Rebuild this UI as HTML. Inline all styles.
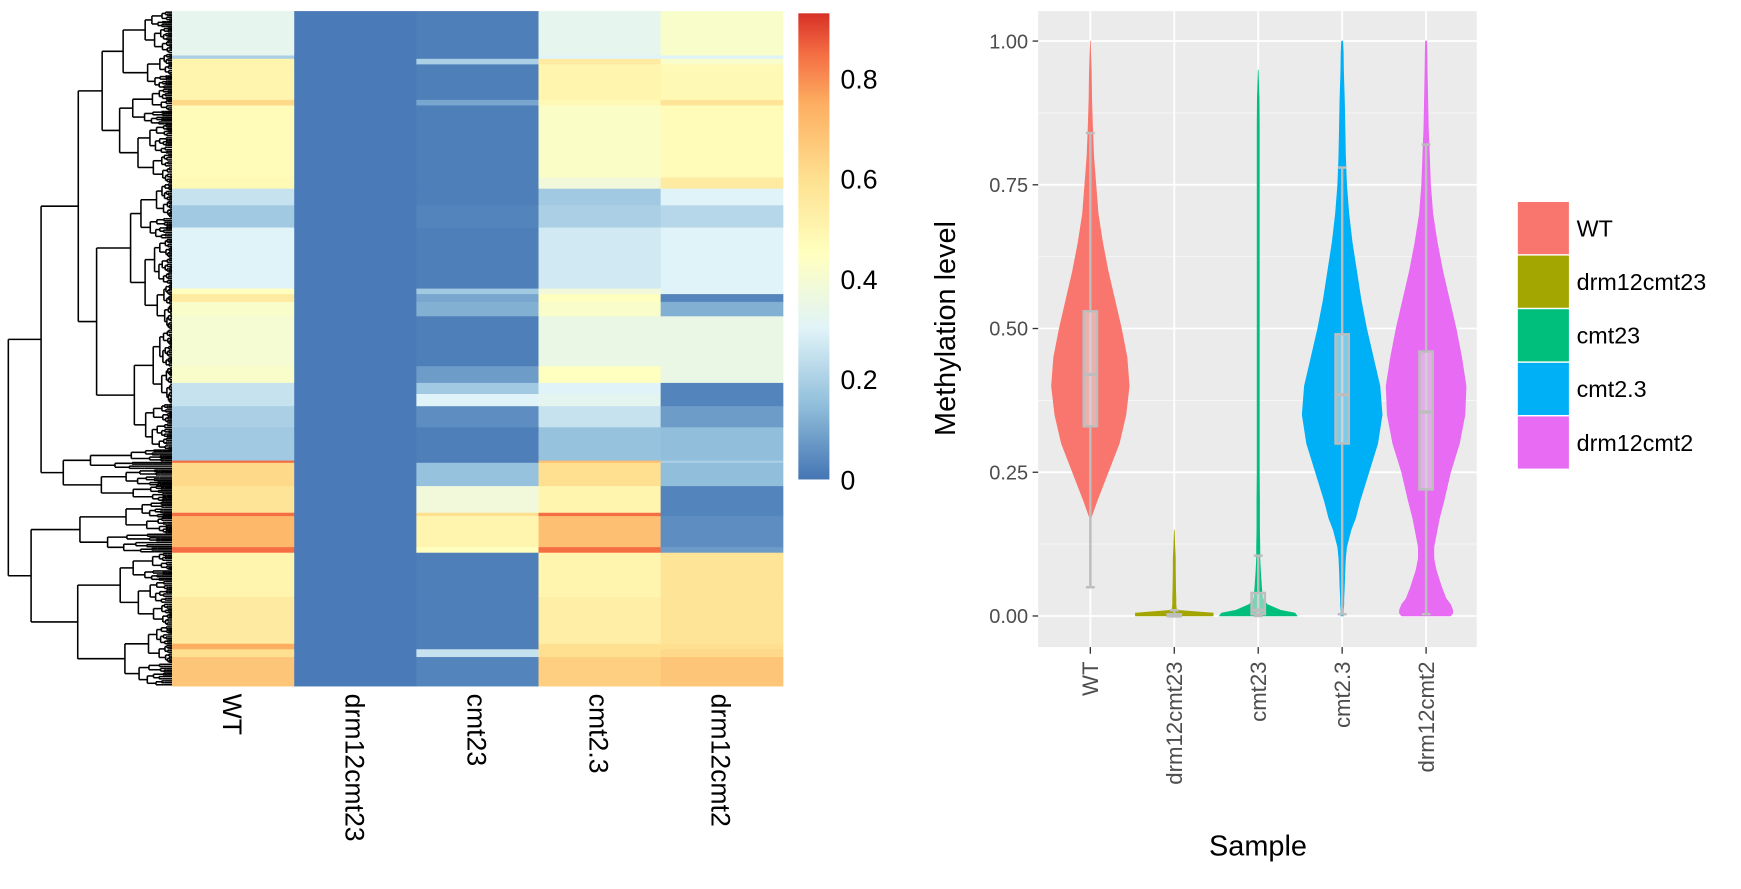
<!DOCTYPE html>
<html><head><meta charset="utf-8">
<style>
html,body{margin:0;padding:0;background:#fff;}
svg{display:block;}
text{font-family:"Liberation Sans",sans-serif;}
</style></head>
<body>
<svg id="fig" width="1741" height="889" viewBox="0 0 1568 801" preserveAspectRatio="none" xmlns="http://www.w3.org/2000/svg">
  <g id="dendro"></g>
  <g id="heat"></g>
  <defs>
    <linearGradient id="cbar" x1="0" y1="1" x2="0" y2="0">
      <stop offset="0" stop-color="#4575b4"/>
      <stop offset="0.161" stop-color="#91bfdb"/>
      <stop offset="0.323" stop-color="#e0f3f8"/>
      <stop offset="0.484" stop-color="#ffffbf"/>
      <stop offset="0.645" stop-color="#fee090"/>
      <stop offset="0.806" stop-color="#fdae61"/>
      <stop offset="0.914" stop-color="#f46d43"/>
      <stop offset="1" stop-color="#d73027"/>
    </linearGradient>
  </defs>
  <rect x="719" y="12" width="28" height="420" fill="url(#cbar)"/>
  <g id="cbarLabels" font-size="24" fill="#000"></g>
  <g id="heatLabels" font-size="24" fill="#000"></g>
  <rect x="935" y="10" width="395" height="573" fill="#ebebeb"/>
  <g id="grid"></g>
  <g id="violins"></g>
  <g id="yaxis"></g>
  <g id="xaxis"></g>
  <text x="0" y="0" font-size="26" text-anchor="middle" transform="translate(860,296) rotate(-90)">Methylation level</text>
  <text x="1133" y="771" font-size="26" text-anchor="middle">Sample</text>
  <g id="legend"></g>
</svg>
<script>
// ---------- Heatmap data ----------
const heatColumns = ["WT","drm12cmt23","cmt23","cmt2.3","drm12cmt2"];
const segEnd = [40,43,48,80,85,150,160,175,195,250,255,262,275,320,335,345,356,375,405,407,428,452,455,483,488,528,570,575,582,608];
const valWT   = [0.33,0.2,0.5,0.5,0.62,0.47,0.48,0.25,0.18,0.3,0.45,0.55,0.42,0.4,0.42,0.25,0.25,0.2,0.18,0.85,0.62,0.58,0.85,0.72,0.85,0.5,0.55,0.75,0.6,0.68];
const valDrm  = [0.01,0.01,0.01,0.01,0.01,0.01,0.01,0.01,0.01,0.01,0.01,0.01,0.01,0.01,0.01,0.01,0.01,0.01,0.01,0.01,0.01,0.01,0.01,0.01,0.01,0.01,0.01,0.01,0.01,0.01];
const valCmt23= [0.02,0.02,0.2,0.02,0.1,0.02,0.02,0.02,0.03,0.02,0.18,0.1,0.12,0.02,0.08,0.18,0.3,0.05,0.02,0.02,0.16,0.38,0.6,0.5,0.45,0.02,0.02,0.02,0.25,0.03];
const valCmt2 = [0.33,0.3,0.55,0.5,0.48,0.43,0.38,0.18,0.2,0.27,0.38,0.45,0.42,0.35,0.45,0.3,0.32,0.25,0.16,0.7,0.6,0.5,0.85,0.7,0.85,0.5,0.53,0.6,0.6,0.65];
const valDrm2 = [0.42,0.3,0.42,0.48,0.58,0.47,0.55,0.3,0.22,0.3,0.3,0.03,0.12,0.35,0.35,0.03,0.03,0.08,0.15,0.2,0.15,0.03,0.03,0.05,0.08,0.58,0.58,0.6,0.62,0.68];
const cbarTicks = [0,0.2,0.4,0.6,0.8];

// ---------- Violin data ----------
const groups = ["WT","drm12cmt23","cmt23","cmt2.3","drm12cmt2"];
const levels = [0,0.005,0.01,0.02,0.03,0.05,0.08,0.1,0.12,0.15,0.17,0.2,0.25,0.3,0.35,0.4,0.45,0.5,0.55,0.6,0.65,0.7,0.75,0.8,0.85,0.9,0.93,0.95,0.98,1.0];
const densWT   = [0,0,0,0,0,0,0,0,0,0,0.5,6,16,26,32,35,33,28,22,16,11,7,5,3,2,1.2,1,0.8,0.3,0];
const densDrm  = [35,35,2,1.5,1.5,1.2,1,1,0.5,0,0,0,0,0,0,0,0,0,0,0,0,0,0,0,0,0,0,0,0,0];
const densCmt23= [35,33,20,8,4,3,2,1.5,1.5,1.2,1.2,1.2,1,1,1,1,1,1,1,1,1,1,1,1,1,0.8,0.3,0,0,0];
const densCmt2 = [1,1,1,1.5,1.5,2,2.5,3,4,8,12,16,24,32,36,34,28,22,17,13,9,6,4,3,2.5,2,1.5,1.2,1,0.5];
const densDrm2 = [22,24,24,22,18,14,9,7,7,10,12,16,22,30,35,36,32,27,21,15,10,6,4,3,2,1.5,1.2,1,0.8,0.5];
const boxQ1  = [0.33,0,0.003,0.3,0.22];
const boxMed = [0.42,0,0.01,0.385,0.355];
const boxQ3  = [0.53,0.003,0.04,0.49,0.46];
const whLo   = [0.05,0,0,0.003,0.003];
const whHi   = [0.84,0.01,0.105,0.78,0.82];
const yTicks = [0,0.25,0.5,0.75,1.0];
const yTickLabels = ["0.00","0.25","0.50","0.75","1.00"];

const NS="http://www.w3.org/2000/svg";
function mk(tag, attrs, parent){const e=document.createElementNS(NS,tag);for(const k in attrs)e.setAttribute(k,attrs[k]);parent.appendChild(e);return e;}
function lerp(a,b,t){return a+(b-a)*t;}
const stops=[[0,[69,117,180]],[0.15,[145,191,219]],[0.3,[224,243,248]],[0.45,[255,255,191]],[0.6,[254,224,144]],[0.75,[253,174,97]],[0.85,[244,109,67]],[0.93,[215,48,39]]];
function color(v){
  if(v<=stops[0][0])return `rgb(${stops[0][1]})`;
  for(let i=1;i<stops.length;i++){if(v<=stops[i][0]){const t=(v-stops[i-1][0])/(stops[i][0]-stops[i-1][0]);const a=stops[i-1][1],b=stops[i][1];return `rgb(${Math.round(lerp(a[0],b[0],t))},${Math.round(lerp(a[1],b[1],t))},${Math.round(lerp(a[2],b[2],t))})`;}}
  return `rgb(${stops[stops.length-1][1]})`;
}

const hmX0=155, colW=110, hmY0=10, rowH=1;
const heatCols=[valWT,valDrm,valCmt23,valCmt2,valDrm2];
const heat=document.getElementById('heat');
heatCols.forEach((vals,c)=>{
  let start=0;
  vals.forEach((v,i)=>{
    const r=mk('rect',{x:hmX0+c*colW,y:hmY0+start*rowH,width:colW+0.5,height:(segEnd[i]-start)*rowH+0.5,fill:color(v)},heat);
    
    
    start=segEnd[i];
  });
});
const hl=document.getElementById('heatLabels');
heatColumns.forEach((n,c)=>{
  const cx=hmX0+c*colW+colW/2-9;
  const t=mk('text',{x:0,y:0,transform:`translate(${cx},625) rotate(90)`},hl);
  t.textContent=n;
  
  
});
const cbY=v=>432-v*(420/0.93);
const cbl=document.getElementById('cbarLabels');
cbarTicks.forEach(v=>{
  const t=mk('text',{x:757,y:cbY(v)+9},cbl);
  t.textContent=v===0?"0":v.toFixed(1);
  
  
});

const dg=document.getElementById('dendro');
const ratios=[0.45,0.55,0.38,0.62,0.5,0.42];
const fracs=[0.3,0.45,0.25,0.5,0.35];
function ln(x1,y1,x2,y2){const l=mk('line',{x1,y1,x2,y2,stroke:'#000','stroke-width':1.4},dg);}
function cluster(x,t,b,d){
  if(b-t<2.2){const m=(t+b)/2;ln(x,m,155,m);return m;}
  const s=t+(b-t)*ratios[d%ratios.length];
  const cx1=x+(155-x)*fracs[d%fracs.length];
  const cx2=x+(155-x)*fracs[(d+2)%fracs.length];
  const m1=cluster(cx1,t,s,d+1), m2=cluster(cx2,s,b,d+2);
  ln(x,m1,x,m2);ln(x,m1,cx1,m1);ln(x,m2,cx2,m2);
  return (m1+m2)/2;
}
function join(x,a,b){ln(x,a.m,x,b.m);ln(x,a.m,a.x,a.m);ln(x,b.m,b.x,b.m);return {x:x,m:(a.m+b.m)/2};}
const A1a={x:92,m:cluster(92,10,165,0)};
const A1b={x:87,m:cluster(87,165,405,1)};
const A1=join(70.5,A1a,A1b);
const A2={x:57,m:cluster(57,405,452,2)};
const A=join(37,A1,A2);
const B1={x:72,m:cluster(72,452,498,3)};
const B2={x:70,m:cluster(70,498,618,1)};
const B=join(28,B1,B2);
join(7.5,A,B);

const catX=i=>982+i*75.6;
const yS=v=>555-v*518;
const grid=document.getElementById('grid');
[0.125,0.375,0.625,0.875].forEach(v=>{const l=mk('line',{x1:935,x2:1330,y1:yS(v),y2:yS(v),stroke:'#f7f7f7','stroke-width':0.8},grid);});
yTicks.forEach(v=>{const l=mk('line',{x1:935,x2:1330,y1:yS(v),y2:yS(v),stroke:'#fff','stroke-width':1.6},grid);});
groups.forEach((g,i)=>{const l=mk('line',{x1:catX(i),x2:catX(i),y1:10,y2:583,stroke:'#fff','stroke-width':1.6},grid);});

const colors=["#F8766D","#A3A500","#00BF7D","#00B0F6","#E76BF3"];
const dens=[densWT,densDrm,densCmt23,densCmt2,densDrm2];
const vg=document.getElementById('violins');
groups.forEach((g,i)=>{
  const cx=catX(i), d=dens[i];
  let right=[],left=[];
  levels.forEach((lv,k)=>{ if(d[k]>0||(k>0&&d[k-1]>0)||(k<d.length-1&&d[k+1]>0)){right.push([cx+d[k],yS(lv)]);left.push([cx-d[k],yS(lv)]);} });
  const pts=right.concat(left.reverse());
  const p=mk('path',{d:'M'+pts.map(q=>q[0].toFixed(2)+','+q[1].toFixed(2)).join('L')+'Z',fill:colors[i],stroke:colors[i],'stroke-width':0.6},vg);
  
  
  const w=mk('line',{x1:cx,x2:cx,y1:yS(whLo[i]),y2:yS(whHi[i]),stroke:'#bdbdbd','stroke-width':2.2},vg);
  
  
  [whLo[i],whHi[i]].forEach(v=>{const c=mk('line',{x1:cx-4,x2:cx+4,y1:yS(v),y2:yS(v),stroke:'#bdbdbd','stroke-width':2.2},vg);});
  const b=mk('rect',{x:cx-6,y:yS(boxQ3[i]),width:12,height:Math.max(1,yS(boxQ1[i])-yS(boxQ3[i])),fill:'rgba(225,225,225,0.55)',stroke:'#bdbdbd','stroke-width':2.2},vg);
  
  
  const m=mk('line',{x1:cx-6,x2:cx+6,y1:yS(boxMed[i]),y2:yS(boxMed[i]),stroke:'#bdbdbd','stroke-width':3},vg);
  
  
});
const ya=document.getElementById('yaxis');
yTicks.forEach((v,k)=>{
  const l=mk('line',{x1:930,x2:935,y1:yS(v),y2:yS(v),stroke:'#333','stroke-width':1.2},ya);
  
  
  const t=mk('text',{x:926,y:yS(v)+6.5,'text-anchor':'end','font-size':18,fill:'#4d4d4d'},ya);
  t.textContent=yTickLabels[k];
  
  
});
const xa=document.getElementById('xaxis');
groups.forEach((g,i)=>{
  const cx=catX(i);
  const l=mk('line',{x1:cx,x2:cx,y1:583,y2:589,stroke:'#333','stroke-width':1.2},xa);
  
  
  const t=mk('text',{x:0,y:0,'text-anchor':'end','font-size':20,fill:'#4d4d4d',transform:`translate(${cx+7},596) rotate(-90)`},xa);
  t.textContent=g;
  
  
});
const lg=document.getElementById('legend');
groups.forEach((g,i)=>{
  const y=182+i*48.3;
  const r=mk('rect',{x:1367,y:y,width:46,height:47,fill:colors[i]},lg);
  
  
  const t=mk('text',{x:1420,y:y+31,'font-size':21,fill:'#000'},lg);
  t.textContent=g;
  
  
});
</script>
</body></html>
